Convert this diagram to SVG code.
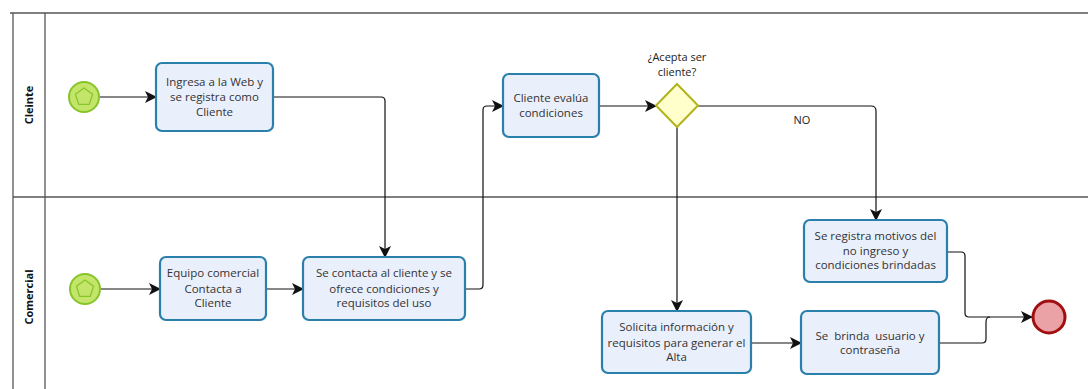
<svg xmlns="http://www.w3.org/2000/svg" width="1088" height="389" viewBox="0 0 1088 389">
<style>
.pool{stroke:#555;stroke-width:1.3;fill:none}
.lane{font-family:"Open Sans",sans-serif;font-size:11px;font-weight:bold;fill:#111;text-anchor:middle}
.task{fill:#eaeffc;stroke:#2a7fab;stroke-width:2.2}
.t{font-family:"Open Sans",sans-serif;font-size:11.5px;fill:#333;text-anchor:middle;white-space:pre}
.lbl{font-family:"Open Sans",sans-serif;font-size:11px;fill:#222;text-anchor:middle}
.start{fill:#c3e66a;stroke:#86c42a;stroke-width:2}
.pent{fill:none;stroke:#86c42a;stroke-width:1.2}
.gw{fill:#ffffcc;stroke:#b2b21e;stroke-width:2}
.end{fill:#eba2a6;stroke:#a11010;stroke-width:3}
.c{fill:none;stroke:#111;stroke-width:1.2;marker-end:url(#ah)}
</style>
<defs>
<marker id="ah" viewBox="0 0 12 12" refX="11" refY="6" markerWidth="12" markerHeight="12" markerUnits="userSpaceOnUse" orient="auto">
<path d="M0,0 L12,6 L0,12 L3,6 Z" fill="#111"/>
</marker>
</defs>
<g id="pool">
<line class="pool" x1="10" y1="13" x2="1088" y2="13"/>
<line class="pool" x1="13" y1="13" x2="13" y2="389"/>
<line class="pool" x1="45" y1="13" x2="45" y2="389"/>
<line class="pool" x1="13" y1="197" x2="1088" y2="197"/>
<text class="lane" transform="translate(33,105) rotate(-90)">Cleinte</text>
<text class="lane" transform="translate(33,297) rotate(-90)">Comercial</text>
</g>
<g id="connectors">
<path class="c" d="M100,97 L156,97"/>
<path class="c" d="M273,97 L381,97 Q385,97 385,101 L385,257"/>
<path class="c" d="M101,289 L160,289"/>
<path class="c" d="M266,289 L303,289"/>
<path class="c" d="M465,289 L479,289 Q483,289 483,285 L483,110 Q483,106 487,106 L503,106"/>
<path class="c" d="M599,106 L656,106"/>
<path class="c" d="M698,106 L871,106 Q876,106 876,111 L876,220"/>
<path class="c" d="M677,127 L677,311"/>
<path class="c" d="M751,343 L801,343"/>
<path class="c" d="M947,252 L961,252 Q965,252 965,256 L965,313 Q965,317 969,317 L1032,317"/>
<path fill="none" stroke="#111" stroke-width="1.2" d="M939,343 L982,343 Q986,343 986,339 L986,322 Q986,317 990,317"/>
<text class="lbl" x="802" y="124">NO</text>
</g>
<g id="start1"><circle class="start" cx="84" cy="97" r="15"/><polygon class="pent" points="84,88 92.6,94.2 89.3,104.3 78.7,104.3 75.4,94.2"/></g>
<g id="start2"><circle class="start" cx="85" cy="289" r="15"/><polygon class="pent" points="85,280 93.6,286.2 90.3,296.3 79.7,296.3 76.4,286.2"/></g>
<g id="task1"><rect class="task" x="156" y="63" width="117" height="68" rx="6"/>
<text class="t" x="214.5" y="86">Ingresa a la Web y</text><text class="t" x="214.5" y="101">se registra como</text><text class="t" x="214.5" y="116">Cliente</text></g>
<g id="task2"><rect class="task" x="160" y="257" width="106" height="63" rx="6"/>
<text class="t" x="213" y="277">Equipo comercial</text><text class="t" x="213" y="293">Contacta a</text><text class="t" x="213" y="307">Cliente</text></g>
<g id="task3"><rect class="task" x="303" y="257" width="162" height="63" rx="6"/>
<text class="t" x="384" y="277">Se contacta al cliente y se</text><text class="t" x="384" y="293">ofrece condiciones y</text><text class="t" x="384" y="307">requisitos del uso</text></g>
<g id="task4"><rect class="task" x="503" y="74" width="96" height="63" rx="6"/>
<text class="t" x="551" y="102">Cliente evalúa</text><text class="t" x="551" y="117">condiciones</text></g>
<g id="gateway"><polygon class="gw" points="677,84 698,105.5 677,127 656,105.5"/>
<text class="lbl" x="677" y="61">¿Acepta ser</text><text class="lbl" x="677" y="76">cliente?</text></g>
<g id="task5"><rect class="task" x="804" y="220" width="143" height="62" rx="6"/>
<text class="t" x="875.5" y="240">Se registra motivos del</text><text class="t" x="875.5" y="255">no ingreso y</text><text class="t" x="875.5" y="269">condiciones brindadas</text></g>
<g id="task6"><rect class="task" x="602" y="311" width="149" height="62" rx="6"/>
<text class="t" x="676.5" y="331">Solicita información y</text><text class="t" x="676.5" y="347">requisitos para generar el</text><text class="t" x="676.5" y="361">Alta</text></g>
<g id="task7"><rect class="task" x="801" y="311" width="138" height="63" rx="6"/>
<text class="t" x="870" y="340" xml:space="preserve">Se  brinda  usuario y</text><text class="t" x="870" y="354">contraseña</text></g>
<g id="end"><circle class="end" cx="1049" cy="317" r="16"/></g>
</svg>
